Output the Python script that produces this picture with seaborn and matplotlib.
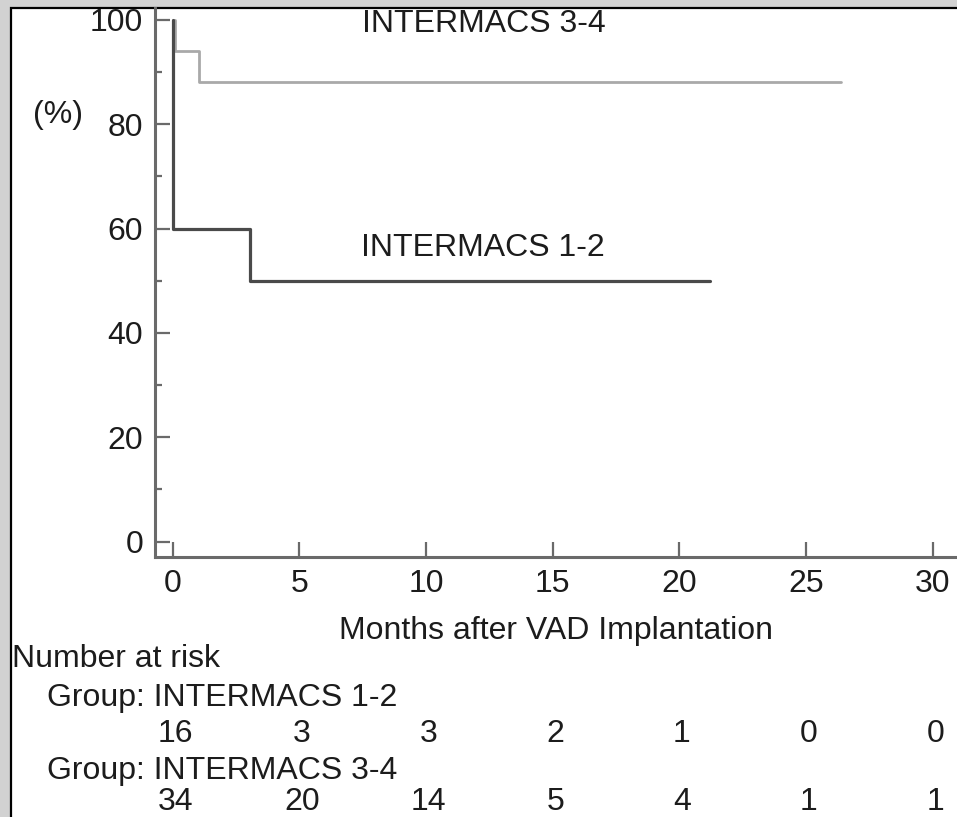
import matplotlib
matplotlib.use("Agg")
import matplotlib.pyplot as plt
import matplotlib.transforms as mtransforms
from matplotlib.patches import Rectangle
from matplotlib.ticker import MultipleLocator
import seaborn as sns
import pandas as pd

# ---- data ----
group_names = ["INTERMACS 1-2", "INTERMACS 3-4"]
times_12 = [0.0, 0.0, 3.05, 21.2]
surv_12 = [100, 60, 50, 50]
times_34 = [0.0, 0.1, 1.05, 26.4]
surv_34 = [100, 94.1, 88.2, 88.2]
x_ticks = [0, 5, 10, 15, 20, 25, 30]
y_ticks = [0, 20, 40, 60, 80, 100]
risk_12 = [16, 3, 3, 2, 1, 0, 0]
risk_34 = [34, 20, 14, 5, 4, 1, 1]

df = pd.concat([
    pd.DataFrame({"month": times_12, "surv": surv_12, "group": group_names[0]}),
    pd.DataFrame({"month": times_34, "surv": surv_34, "group": group_names[1]}),
], ignore_index=True)

sns.set_theme(style="white")
plt.rcParams["font.family"] = ["Liberation Sans", "DejaVu Sans"]
FS = 23
TXT = "#1c1c1c"
SPINE = "#6a6a6a"

W, H = 957, 817
fig = plt.figure(figsize=(W / 100, H / 100), dpi=100)
fig.patch.set_facecolor("#d2d2d2")
# white panel with black border on left/top
fig.patches.append(Rectangle((11 / W, -0.02), 1.05, 1.02 - 8 / H,
                             transform=fig.transFigure, facecolor="white",
                             edgecolor="black", linewidth=1.6, zorder=-5))

ax_left, ax_right, ax_top, ax_bot = 155, 957, 8, 556.7
ax = fig.add_axes([ax_left / W, 1 - ax_bot / H, (ax_right - ax_left) / W, (ax_bot - ax_top) / H])
ax.set_facecolor("none")
ax.set_zorder(2)

sns.lineplot(data=df[df.group == group_names[1]], x="month", y="surv", ax=ax,
             estimator=None, sort=False, drawstyle="steps-post",
             color="#a9a9a9", linewidth=2.0, legend=False)
sns.lineplot(data=df[df.group == group_names[0]], x="month", y="surv", ax=ax,
             estimator=None, sort=False, drawstyle="steps-post",
             color="#4a4a4a", linewidth=2.3, legend=False)

ax.set_xlim(-0.7, 30.96)
ax.set_ylim(-2.9, 102.3)
ax.set_xticks(x_ticks)
ax.set_yticks(y_ticks)
ax.yaxis.set_minor_locator(MultipleLocator(10))
ax.tick_params(axis="both", which="major", direction="in", length=11, width=1.6,
               color=SPINE, labelsize=FS, labelcolor=TXT, pad=8.5)
ax.tick_params(axis="y", which="minor", direction="in", length=5, width=1.6, color=SPINE, left=True)
ax.tick_params(axis="x", which="major", bottom=True)
ax.tick_params(axis="y", which="major", left=True)

for s in ["top", "right"]:
    ax.spines[s].set_visible(False)
for s in ["left", "bottom"]:
    ax.spines[s].set_color(SPINE)
    ax.spines[s].set_linewidth(2.2)

ax_h = ax_bot - ax_top
ax_w = ax_right - ax_left
ax.set_xlabel("Months after VAD Implantation", fontsize=FS, color=TXT, va="baseline")
ax.xaxis.set_label_coords(0.5, (ax_bot - 639) / ax_h)
ax.set_ylabel("(%)", fontsize=FS, color=TXT, rotation=0, ha="center", va="center")
ax.yaxis.set_label_coords((58 - ax_left) / ax_w, (ax_bot - 115) / ax_h)

ax.text(12.3, 99.2, group_names[1], fontsize=FS, color=TXT, ha="center", va="center")
ax.text(12.25, 56.3, group_names[0], fontsize=FS, color=TXT, ha="center", va="center")

# ---- number at risk table ----
def fy(px):
    return 1 - px / H

fig.text(12 / W, fy(667), "Number at risk", fontsize=FS, color=TXT, ha="left", va="baseline")
fig.text(47 / W, fy(706), "Group: " + group_names[0], fontsize=FS, color=TXT, ha="left", va="baseline")
fig.text(47 / W, fy(779), "Group: " + group_names[1], fontsize=FS, color=TXT, ha="left", va="baseline")
blend = mtransforms.blended_transform_factory(ax.transData, fig.transFigure)
for xv, n in zip(x_ticks, risk_12):
    ax.text(xv + 0.1, fy(741.5), str(n), fontsize=FS, color=TXT, ha="center", va="baseline",
            transform=blend, clip_on=False)
for xv, n in zip(x_ticks, risk_34):
    ax.text(xv + 0.1, fy(816.5), str(n), fontsize=FS, color=TXT, ha="center", va="bottom",
            transform=blend, clip_on=False)

fig.savefig("out.png", dpi=100, facecolor=fig.get_facecolor())
